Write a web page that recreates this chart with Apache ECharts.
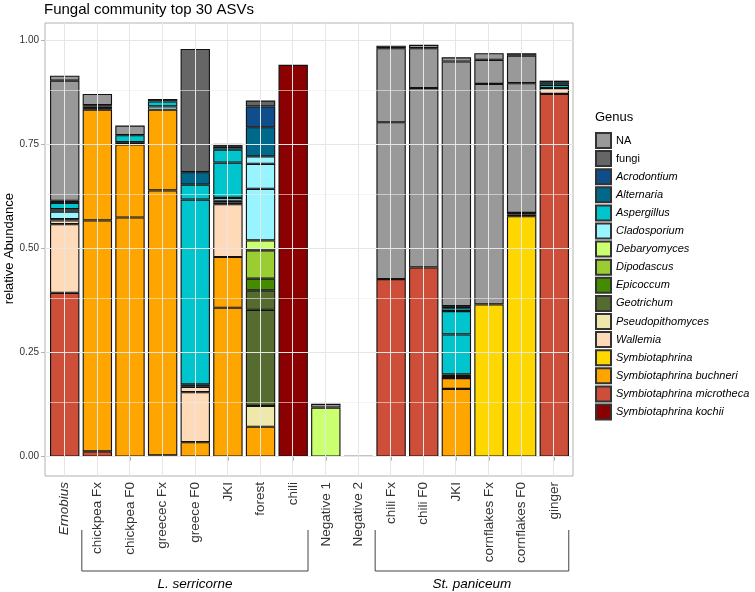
<!DOCTYPE html>
<html lang="en">
<head>
  <meta charset="UTF-8">
  <title>Fungal community top 30 ASVs</title>
  <script src="https://cdn.jsdelivr.net/npm/echarts@6/dist/echarts.min.js"></script>
  <style>html, body { margin: 0; padding: 0; background: #fff; }</style>
</head>
<body>
  <div id="main" style="width: 755px;height: 592px;"></div>
  <script>
    const genera = ['NA', 'fungi', 'Acrodontium', 'Alternaria', 'Aspergillus', 'Cladosporium', 'Debaryomyces',
      'Dipodascus', 'Epicoccum', 'Geotrichum', 'Pseudopithomyces', 'Wallemia', 'Symbiotaphrina',
      'Symbiotaphrina buchneri', 'Symbiotaphrina microtheca', 'Symbiotaphrina kochii'];
    const genusColors = ['#999999', '#666666', '#104E8B', '#00688B', '#00C5CD', '#98F5FF', '#CAFF70',
      '#9ACD32', '#458B00', '#556B2F', '#EEE8AA', '#FFDAB9', '#FFD700',
      '#FFA500', '#CD4F39', '#8B0000'];
    const categories = ['Ernobius', 'chickpea Fx', 'chickpea F0', 'greecec Fx', 'greece F0', 'JKI', 'forest', 'chili',
      'Negative 1', 'Negative 2', 'chili Fx', 'chili F0', 'JKI', 'cornflakes Fx', 'cornflakes F0', 'ginger'];
    const yTicks = [0, 0.25, 0.5, 0.75, 1];

    // ASV segments of each sample, bottom to top: [genus, relative abundance]
    const ernobius = [['Symbiotaphrina microtheca', 0.394], ['Wallemia', 0.165], ['Wallemia', 0.009], ['Alternaria', 0.003],
      ['Cladosporium', 0.018], ['Cladosporium', 0.006], ['Aspergillus', 0.015], ['Alternaria', 0.005], ['NA', 0.289], ['NA', 0.012]];
    const chickpeaFx = [['Symbiotaphrina microtheca', 0.013], ['Symbiotaphrina buchneri', 0.555], ['Symbiotaphrina buchneri', 0.266],
      ['Geotrichum', 0.004], ['Epicoccum', 0.004], ['Alternaria', 0.003], ['NA', 0.027]];
    const chickpeaF0 = [['Symbiotaphrina buchneri', 0.575], ['Symbiotaphrina buchneri', 0.176], ['Alternaria', 0.005],
      ['Aspergillus', 0.017], ['NA', 0.023]];
    const greececFx = [['Symbiotaphrina microtheca', 0.003], ['Symbiotaphrina buchneri', 0.637], ['Symbiotaphrina buchneri', 0.194],
      ['Cladosporium', 0.008], ['Aspergillus', 0.012], ['Alternaria', 0.006]];
    const greeceF0 = [['Symbiotaphrina buchneri', 0.035], ['Wallemia', 0.120], ['Wallemia', 0.013], ['Alternaria', 0.006],
      ['Aspergillus', 0.444], ['Aspergillus', 0.036], ['Alternaria', 0.030], ['fungi', 0.296]];
    const jki1 = [['Symbiotaphrina buchneri', 0.358], ['Symbiotaphrina buchneri', 0.122], ['Wallemia', 0.127], ['Geotrichum', 0.004],
      ['Epicoccum', 0.004], ['Cladosporium', 0.007], ['Aspergillus', 0.085], ['Aspergillus', 0.031], ['Aspergillus', 0.007],
      ['fungi', 0.004], ['NA', 0.003]];
    const forest = [['Symbiotaphrina buchneri', 0.072], ['Pseudopithomyces', 0.050], ['Geotrichum', 0.231], ['Geotrichum', 0.047],
      ['Epicoccum', 0.028], ['Dipodascus', 0.068], ['Debaryomyces', 0.024], ['Cladosporium', 0.124], ['Cladosporium', 0.060],
      ['Cladosporium', 0.018], ['Alternaria', 0.070], ['Acrodontium', 0.050], ['fungi', 0.014]];
    const chili = [['Symbiotaphrina kochii', 0.942]];
    const negative1 = [['Debaryomyces', 0.118], ['NA', 0.009]];
    const negative2 = [['NA', 0.002]];
    const chiliFx = [['Symbiotaphrina microtheca', 0.427], ['NA', 0.377], ['NA', 0.178], ['NA', 0.006]];
    const chiliF0 = [['Symbiotaphrina microtheca', 0.455], ['NA', 0.431], ['NA', 0.096], ['NA', 0.008]];
    const jki2 = [['Symbiotaphrina buchneri', 0.163], ['Symbiotaphrina buchneri', 0.026], ['Wallemia', 0.005], ['Alternaria', 0.004],
      ['Aspergillus', 0.096], ['Aspergillus', 0.056], ['Aspergillus', 0.007], ['Alternaria', 0.005], ['NA', 0.588], ['NA', 0.010]];
    const cornflakesFx = [['Symbiotaphrina', 0.366], ['NA', 0.530], ['NA', 0.058], ['NA', 0.016]];
    const cornflakesF0 = [['Symbiotaphrina', 0.578], ['Geotrichum', 0.004], ['Alternaria', 0.004], ['NA', 0.312], ['NA', 0.066], ['NA', 0.006]];
    const ginger = [['Symbiotaphrina microtheca', 0.872], ['Wallemia', 0.014], ['Aspergillus', 0.008], ['Aspergillus', 0.006], ['Alternaria', 0.004]];

    const samples = [ernobius, chickpeaFx, chickpeaF0, greececFx, greeceF0, jki1, forest, chili,
      negative1, negative2, chiliFx, chiliF0, jki2, cornflakesFx, cornflakesF0, ginger];

    // host groups: name, first and last sample index
    const groupNames = ['L. serricorne', 'St. paniceum'];
    const groupFirst = [1, 10];
    const groupLast = [7, 15];

    const font = 'Liberation Sans, Arial, sans-serif';
    const colorOf = {};
    genera.forEach((g, i) => { colorOf[g] = genusColors[i]; });
    const upright = ['NA', 'fungi'];

    const maxLayers = Math.max(...samples.map(s => s.length));
    const layerSeries = [];
    for (let k = 0; k < maxLayers; k++) {
      layerSeries.push({
        type: 'bar',
        name: 'layer' + k,
        xAxisIndex: 1,
        yAxisIndex: 1,
        stack: 'asv',
        barWidth: '90%',
        itemStyle: { borderColor: '#111', borderWidth: 1.1 },
        emphasis: { disabled: true },
        data: samples.map(s => s[k] ? { value: s[k][1], itemStyle: { color: colorOf[s[k][0]] } } : '-')
      });
    }
    // empty series only to feed the legend
    const legendSeries = genera.map(g => ({
      type: 'bar',
      name: g,
      xAxisIndex: 1,
      yAxisIndex: 1,
      stack: 'asv',
      data: [],
      itemStyle: { color: colorOf[g], borderColor: '#333', borderWidth: 1 }
    }));

    const gridLines = [];
    categories.forEach((c, i) => gridLines.push({ xAxis: i, lineStyle: { color: '#e6e6e6', width: 1, type: 'solid' } }));
    yTicks.forEach(v => gridLines.push({ yAxis: v, lineStyle: { color: '#e6e6e6', width: 1, type: 'solid' } }));
    yTicks.slice(0, -1).forEach((v, i) => gridLines.push({ yAxis: (v + yTicks[i + 1]) / 2, lineStyle: { color: '#ededed', width: 0.6, type: 'solid' } }));

    const myChart = echarts.init(document.getElementById('main'));
    const options = {
      animation: false,
      textStyle: { fontFamily: font },
      title: [
        { text: 'Fungal community top 30 ASVs', left: 44, top: 2, padding: 0,
          textStyle: { fontSize: 15, fontWeight: 'normal', color: '#000', fontFamily: font } },
        { text: 'Genus', left: 595, top: 111, padding: 0,
          textStyle: { fontSize: 13, fontWeight: 'normal', color: '#000', fontFamily: font } }
      ],
      legend: {
        orient: 'vertical',
        left: 595,
        top: 132,
        padding: 0,
        itemWidth: 15,
        itemHeight: 15,
        itemGap: 1.1,
        icon: 'rect',
        selectedMode: false,
        data: genera,
        formatter: name => upright.includes(name) ? name : '{i|' + name + '}',
        textStyle: {
          fontSize: 11, color: '#000', fontFamily: font,
          rich: { i: { fontStyle: 'italic', fontSize: 11, color: '#000', fontFamily: font } }
        }
      },
      grid: [
        { left: 45, right: 182, top: 23, bottom: 116, outerBoundsMode: 'none', show: true, borderColor: '#b3b3b3', borderWidth: 1, backgroundColor: '#fff' },
        { left: 48.4, right: 184.4, top: 40.7, bottom: 135.3, outerBoundsMode: 'none' },
        { left: 45, right: 182, top: 40.7, bottom: 135.3, outerBoundsMode: 'none' }
      ],
      xAxis: [
        { type: 'value', gridIndex: 0, min: -0.6, max: 15.6, show: false },
        {
          type: 'category', gridIndex: 1, data: categories, offset: 19.3,
          axisLine: { show: false },
          axisTick: { show: true, alignWithLabel: true, length: 4, lineStyle: { color: '#b3b3b3' } },
          axisLabel: {
            rotate: 90, interval: 0, margin: 6, fontSize: 13.5, color: '#333', fontFamily: font,
            formatter: (v, i) => i === 0 ? '{i|' + v + '}' : v,
            rich: { i: { fontStyle: 'italic', fontSize: 13.5, color: '#333', fontFamily: font } }
          }
        },
        { type: 'value', gridIndex: 2, min: 0, max: 1, show: false }
      ],
      yAxis: [
        { type: 'value', gridIndex: 0, min: -0.0464, max: 1.0425, show: false },
        { type: 'value', gridIndex: 1, min: 0, max: 1, show: false },
        {
          type: 'value', gridIndex: 2, min: 0, max: 1, interval: 0.25,
          axisLine: { show: false, onZero: false },
          axisTick: { show: true, length: 4, lineStyle: { color: '#b3b3b3' } },
          splitLine: { show: false },
          axisLabel: { formatter: v => v.toFixed(2), fontSize: 10, color: '#333', margin: 6, align: 'right', verticalAlign: 'middle', fontFamily: font },
          name: 'relative Abundance',
          nameLocation: 'middle',
          nameGap: 29,
          nameMoveOverlap: false,
          nameTextStyle: { fontSize: 13, color: '#000', fontFamily: font }
        }
      ],
      series: [
        {
          type: 'line', xAxisIndex: 0, yAxisIndex: 0, data: [], silent: true, showSymbol: false,
          markLine: { silent: true, symbol: ['none', 'none'], label: { show: false }, data: gridLines }
        },
        ...layerSeries,
        ...legendSeries
      ]
    };
    myChart.setOption(options);

    // host brackets under the x labels
    const graphics = [];
    groupNames.forEach((name, g) => {
      const x1 = myChart.convertToPixel({ xAxisIndex: 0 }, groupFirst[g] - 0.47);
      const x2 = myChart.convertToPixel({ xAxisIndex: 0 }, groupLast[g] + 0.47);
      graphics.push({
        type: 'polyline',
        shape: { points: [[x1, 530], [x1, 571], [x2, 571], [x2, 530]] },
        style: { stroke: '#444', lineWidth: 1, fill: null }
      });
      graphics.push({
        type: 'text',
        x: (x1 + x2) / 2,
        y: 584,
        style: { text: name, fontSize: 13.5, fontStyle: 'italic', fontFamily: font, fill: '#000', align: 'center', verticalAlign: 'middle' }
      });
    });
    myChart.setOption({ graphic: graphics });
  </script>
</body>
</html>
